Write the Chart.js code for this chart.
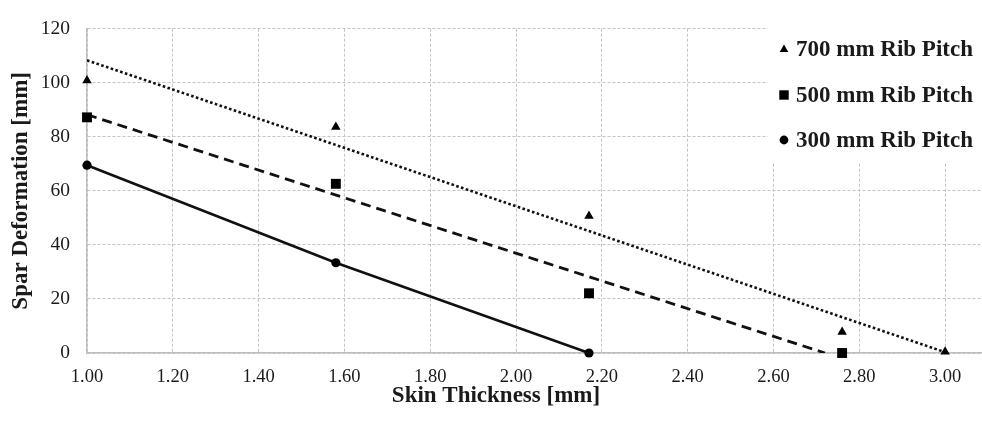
<!DOCTYPE html>
<html>
<head>
<meta charset="utf-8">
<script src="https://cdn.jsdelivr.net/npm/chart.js@4.4.1/dist/chart.umd.min.js"></script>
<style>
html,body{margin:0;padding:0;background:#fff;overflow:hidden;}
#wrap{width:982px;height:421px;overflow:hidden;position:relative;}
#c{position:absolute;left:0;top:0;}
</style>
</head>
<body>
<div id="wrap"><canvas id="c" width="989" height="421"></canvas></div>
<script>
// ---- data ----
const thickness700 = [1.00, 1.58, 2.17, 2.76, 3.00];
const deform700    = [100.8, 83.6, 50.7, 7.8, 0.5];
const thickness500 = [1.00, 1.58, 2.17, 2.76];
const deform500    = [87.2, 62.6, 22.1, 0.0];
const thickness300 = [1.00, 1.58, 2.17];
const deform300    = [69.5, 33.4, 0.0];
// trend line end points
const trend700X = [1.00, 3.00];
const trend700Y = [108.3, 0.3];
const trend500X = [1.00, 2.72];
const trend500Y = [88.2, 0.0];
// ticks
const xTickValues = [1.00, 1.20, 1.40, 1.60, 1.80, 2.00, 2.20, 2.40, 2.60, 2.80, 3.00];
const xTickLabels = ['1.00','1.20','1.40','1.60','1.80','2.00','2.20','2.40','2.60','2.80','3.00'];
const yTickValues = [0, 20, 40, 60, 80, 100, 120];
const yTickLabels = ['0','20','40','60','80','100','120'];
const legendLabels = ['700 mm Rib Pitch', '500 mm Rib Pitch', '300 mm Rib Pitch'];
const legendStyles = ['triangle', 'rect', 'circle'];
const xTitle = 'Skin Thickness [mm]';
const yTitle = 'Spar Deformation [mm]';

const pts = (xs, ys) => xs.map((x, i) => ({x: x, y: ys[i]}));
const TXT = '#1a1a1a';
const SERIF = '"Liberation Serif", "Times New Roman", serif';

const legendPlugin = {
  id: 'insideLegend',
  afterDraw(chart) {
    const ctx = chart.ctx;
    ctx.save();
    // x-axis title (offset to the left as in the reference)
    ctx.fillStyle = TXT;
    ctx.font = 'bold 23px ' + SERIF;
    ctx.textAlign = 'center';
    ctx.textBaseline = 'alphabetic';
    ctx.fillText(xTitle, 496, 401.5);
    // legend
    ctx.fillStyle = '#ffffff';
    ctx.fillRect(768, 23, 221, 140);
    const ys = [49, 95, 140];
    ctx.font = 'bold 23px ' + SERIF;
    ctx.textBaseline = 'middle';
    ctx.textAlign = 'left';
    legendLabels.forEach((lab, i) => {
      const cx = 784, cy = ys[i];
      ctx.fillStyle = '#000';
      ctx.beginPath();
      if (legendStyles[i] === 'triangle') {
        ctx.moveTo(cx, cy - 4.5);
        ctx.lineTo(cx + 4.3, cy + 3);
        ctx.lineTo(cx - 4.3, cy + 3);
        ctx.closePath();
      } else if (legendStyles[i] === 'rect') {
        ctx.rect(cx - 4.7, cy - 4.7, 9.4, 9.4);
      } else {
        ctx.arc(cx, cy, 4.4, 0, Math.PI * 2);
      }
      ctx.fill();
      ctx.fillStyle = TXT;
      ctx.fillText(lab, 796, cy + 1);
    });
    ctx.restore();
  }
};

new Chart(document.getElementById('c'), {
  type: 'scatter',
  data: {
    datasets: [
      { label: 'trend700', data: pts(trend700X, trend700Y), showLine: true,
        borderColor: '#111', borderWidth: 2.6, borderDash: [2.6, 2.4], pointRadius: 0, order: 5 },
      { label: 'trend500', data: pts(trend500X, trend500Y), showLine: true,
        borderColor: '#111', borderWidth: 2.8, borderDash: [10, 6], pointRadius: 0, order: 4 },
      { label: legendLabels[0], data: pts(thickness700, deform700), pointStyle: 'triangle',
        pointRadius: 5.5, pointBorderWidth: 0, backgroundColor: '#000', borderColor: '#000', clip: false, order: 1 },
      { label: legendLabels[1], data: pts(thickness500, deform500), pointStyle: 'rect',
        pointRadius: 7, pointBorderWidth: 0, backgroundColor: '#000', borderColor: '#000', clip: false, order: 2 },
      { label: legendLabels[2], data: pts(thickness300, deform300), pointStyle: 'circle', showLine: true,
        pointRadius: 4.6, pointBorderWidth: 0, backgroundColor: '#000', borderColor: '#111', borderWidth: 2.6, clip: false, order: 3 }
    ]
  },
  options: {
    responsive: false,
    animation: false,
    events: [],
    layout: { padding: { top: 17, right: 0, bottom: 0, left: 0 } },
    plugins: { legend: { display: false }, tooltip: { enabled: false } },
    scales: {
      x: {
        type: 'linear', min: 1.0, max: 3.086,
        afterBuildTicks(scale) { scale.ticks = xTickValues.map(v => ({value: v})); },
        afterFit(scale) { scale.height = 68; },
        ticks: {
          callback: (v, i) => xTickLabels[i],
          color: TXT, font: { family: SERIF, size: 18.5 }, padding: 13, maxRotation: 0, autoSkip: false
        },
        grid: { color: '#c4c4c4', lineWidth: 1, drawTicks: false },
        border: { display: true, color: '#bdbdbd', width: 1.5, dash: [3, 2] },
        title: { display: false }
      },
      y: {
        type: 'linear', min: 0, max: 120,
        afterBuildTicks(scale) { scale.ticks = yTickValues.map(v => ({value: v})); },
        afterFit(scale) { scale.width = 87; },
        ticks: {
          callback: (v, i) => yTickLabels[i],
          color: TXT, font: { family: SERIF, size: 19.5 }, padding: 17, autoSkip: false
        },
        grid: { color: '#c4c4c4', lineWidth: 1, drawTicks: false },
        border: { display: true, color: '#bdbdbd', width: 1.5, dash: [3, 2] },
        title: { display: true, text: yTitle, color: TXT,
          font: { family: SERIF, size: 23, weight: 'bold' }, padding: { top: 7, bottom: 0 } }
      }
    }
  },
  plugins: [legendPlugin]
});
</script>
</body>
</html>
